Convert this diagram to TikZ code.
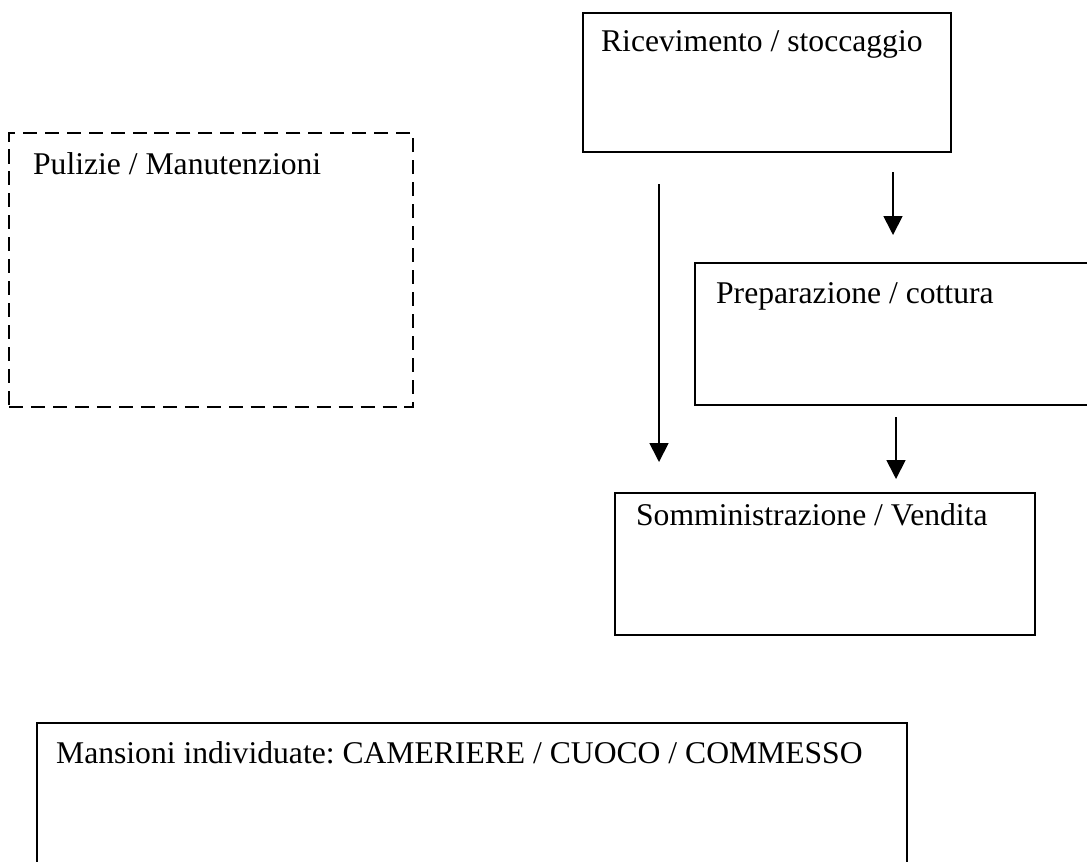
\documentclass[tikz,border=0pt]{standalone}
\usepackage{fontspec}
\setmainfont{Liberation Serif}
\usetikzlibrary{arrows.meta}
\tikzset{
x=0.02cm, y=-0.02cm, % one unit is one pixel of the scanned page, y runs down
every node/.style={font=\fontsize{18}{22}\selectfont\frenchspacing}, % Times-like text everywhere
box/.style={draw, line width=1.3pt, anchor=north west, align=flush left, inner ysep=0pt}, % text sits at the top left of each box
dashedbox/.style={box, dash pattern=on 8pt off 4.5pt}, % the box that is not part of the flow
flow/.style={-{Triangle[length=0.38cm, width=0.38cm]}, line width=1pt}, % arrows between the boxes
}

\begin{document}
\begin{tikzpicture}
       \useasboundingbox (0,0) rectangle (1087,861);
       \clip (0,0) rectangle (1087,861);

       \node[box, inner xsep=0.36cm, text width=6.64cm, text height=0.76cm, text depth=2.02cm] (ric) at (582,12) {Ricevimento / stoccaggio};
       \node[dashedbox, inner xsep=0.48cm, text width=7.12cm, text height=0.82cm, text depth=4.66cm] (clean) at (8,132) {Pulizie / Manutenzioni};
       \node[box, inner xsep=0.42cm, text width=7.56cm, text height=0.8cm, text depth=2.04cm] (prep) at (694,262) {Preparazione / cottura};
       \node[box, inner xsep=0.42cm, text width=7.56cm, text height=0.64cm, text depth=2.2cm] (somm) at (614,492) {Somministrazione / Vendita};
       \node[box, inner xsep=0.38cm, text width=16.64cm, text height=0.8cm, text depth=2.8cm] (staff) at (36,722) {Mansioni individuate: CAMERIERE / CUOCO / COMMESSO};

     \draw (ric.south -| 893,0) edge[flow, shorten <=0.38cm, shorten >=0.54cm] (prep.north -| 893,0)
           (ric.south -| 659,0) edge[flow, shorten <=0.62cm, shorten >=0.6cm] (somm.north -| 659,0)
           (prep.south -| 896,0) edge[flow, shorten <=0.22cm, shorten >=0.26cm] (somm.north -| 896,0);

  \end{tikzpicture}
\end{document}
